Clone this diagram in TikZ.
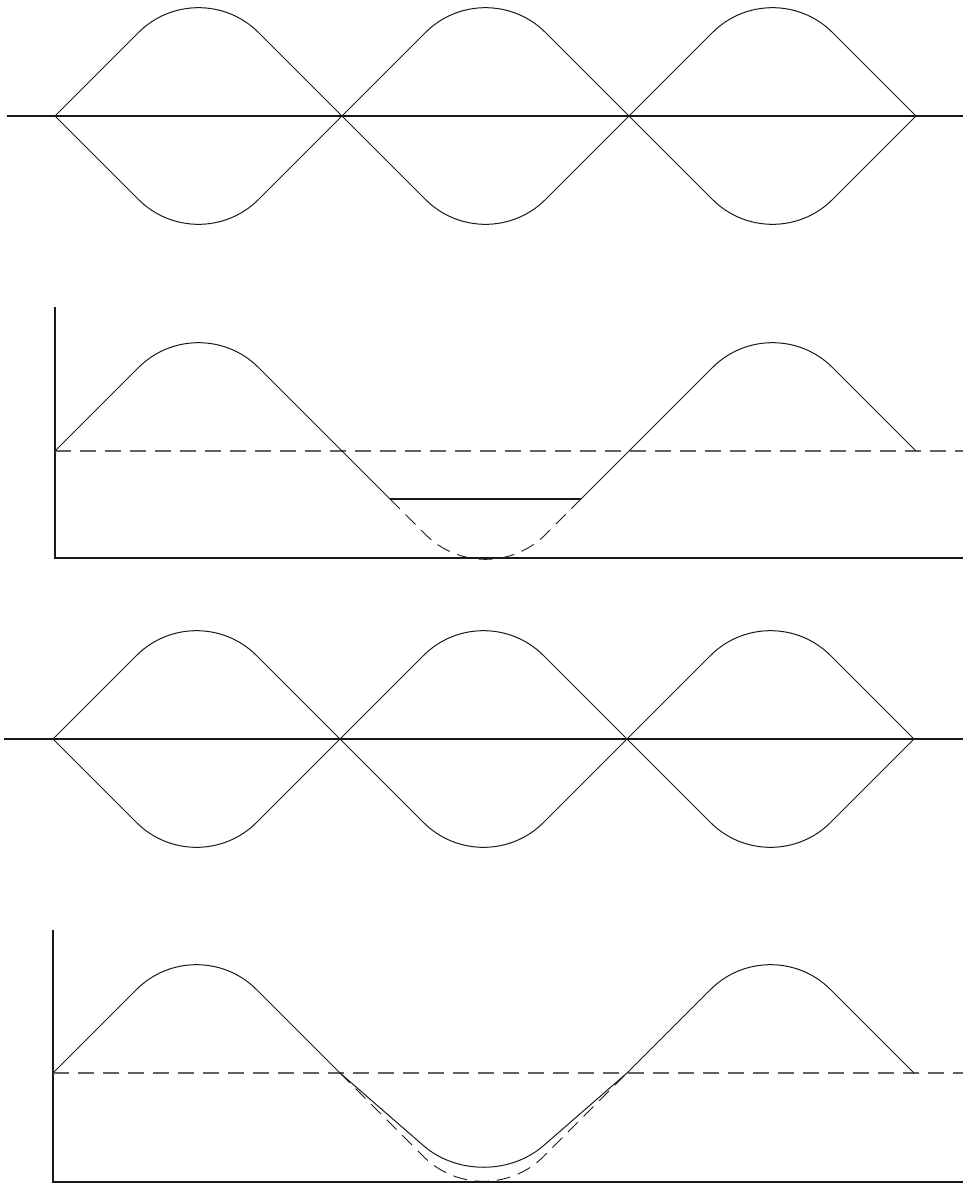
\documentclass[tikz,border=0pt]{standalone}
\begin{document}
\begin{tikzpicture}[x=1pt,y=-1pt,
  wave/.style={line width=1pt, draw=black!90},
  axisline/.style={line width=1.1pt, draw=black!90},
  midline/.style={line width=1.4pt, draw=black!62, dash pattern=on 16pt off 9pt},
  troughdash/.style={line width=0.9pt, draw=black!90, dash pattern=on 14pt off 8pt},
  lobe/.pic={\draw (0,0) -- (83.5,-83.5) .. controls (116.6,-116.6) and (170.4,-116.6) .. (203.5,-83.5) -- (287,0);}
]
\useasboundingbox (0,0) rectangle (969,1183);

% ---------- Panel 1 ----------
\draw[axisline] (7,116) -- (963,116);
\foreach \x in {55,342,629}{
  \pic[wave] at (\x,116) {lobe};
  \pic[wave,yscale=-1] at (\x,116) {lobe};
}

% ---------- Panel 2 ----------
\draw[axisline] (55,307) -- (55,558) -- (963,558);
\draw[midline] (55,451) -- (963,451);
\pic[wave] at (55,451) {lobe};
\pic[wave] at (629,451) {lobe};
\begin{scope}[shift={(342,451)}]
  \draw[wave] (0,0) -- (48,48);
  \draw[wave] (239,48) -- (287,0);
  \draw[wave,line width=1.2pt] (48,48) -- (239,48);
  \draw[troughdash] (48,48) -- (83.5,83.5) .. controls (116.6,116.6) and (170.4,116.6) .. (203.5,83.5) -- (239,48);
\end{scope}

% ---------- Panel 3 ----------
\draw[axisline] (4,739) -- (963,739);
\foreach \x in {53,340,627}{
  \pic[wave] at (\x,739) {lobe};
  \pic[wave,yscale=-1] at (\x,739) {lobe};
}

% ---------- Panel 4 ----------
\draw[axisline] (53,930) -- (53,1182) -- (963,1182);
\draw[midline] (53,1073) -- (963,1073);
\pic[wave] at (53,1073) {lobe};
\pic[wave] at (627,1073) {lobe};
\pic[troughdash,yscale=-1] at (340,1073) {lobe};
\pic[wave,yscale=-0.87] at (340,1073) {lobe};
\end{tikzpicture}
\end{document}
